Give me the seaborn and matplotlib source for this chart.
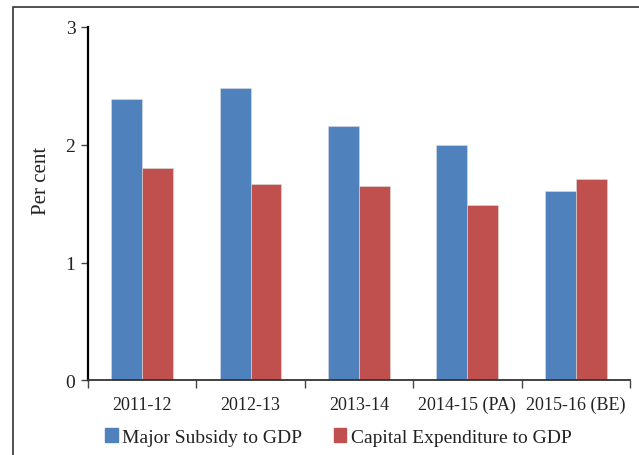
import matplotlib
matplotlib.use("Agg")
import matplotlib.pyplot as plt
import matplotlib.patches as mpatches
import numpy as np
import pandas as pd
import seaborn as sns

# --- data ---
years = ["2011-12", "2012-13", "2013-14", "2014-15 (PA)", "2015-16 (BE)"]
subsidy = [2.39, 2.48, 2.16, 2.00, 1.61]
capex = [1.80, 1.67, 1.65, 1.49, 1.71]
series_names = ["Major Subsidy to GDP", "Capital Expenditure to GDP"]
colors = ["#4F81BD", "#C0504D"]

df = pd.DataFrame({
    "year": years * 2,
    "value": subsidy + capex,
    "series": [series_names[0]] * len(years) + [series_names[1]] * len(years),
})

sns.set_theme(style="white")
plt.rcParams["font.family"] = ["Liberation Serif", "DejaVu Serif"]

fig = plt.figure(figsize=(6.39, 4.56), dpi=100)
ax = fig.add_axes([0.1377, 0.1634, 0.8482, 0.7752])

sns.barplot(data=df, x="year", y="value", hue="series", palette=colors,
            width=0.57, gap=0, saturation=1, ax=ax, legend=True,
            linewidth=0.4, edgecolor="#dddddd")

ax.set_ylim(0, 3)
ax.set_xlim(-0.5, len(years) - 0.5)
ax.set_yticks([0, 1, 2, 3])
ax.set_xlabel("")
ax.set_ylabel("Per cent", fontsize=15, color="#222222")
ax.yaxis.set_label_coords(-0.068, 0.567)

for s in ["top", "right"]:
    ax.spines[s].set_visible(False)
ax.spines["left"].set_color("black")
ax.spines["left"].set_linewidth(1.6)
ax.spines["bottom"].set_color("#333333")
ax.spines["bottom"].set_linewidth(1.3)

ax.tick_params(axis="y", left=True, length=5, width=1, color="#444444",
               labelsize=14, pad=4, labelcolor="#222222")
ax.tick_params(axis="x", which="major", bottom=False, length=0,
               labelsize=13, pad=11, labelcolor="#222222")
ax.set_xticks(np.arange(-0.5, len(years)), minor=True)
ax.tick_params(axis="x", which="minor", bottom=True, length=6, width=1,
               color="#444444")

handles = [mpatches.Patch(color=c) for c in colors]
ax.legend(handles, series_names, loc="center", bbox_to_anchor=(0.462, -0.16),
          ncol=2, frameon=False, fontsize=14, handlelength=0.65,
          handleheight=0.75, handletextpad=0.25, columnspacing=1.6,
          labelcolor="#222222")

frame = mpatches.Rectangle((13 / 639, -0.05), 1.1, 1.05 - 8 / 456,
                           transform=fig.transFigure, fill=False,
                           edgecolor="#333333", linewidth=1.2)
fig.patches.append(frame)

fig.savefig("out.png", dpi=100)
